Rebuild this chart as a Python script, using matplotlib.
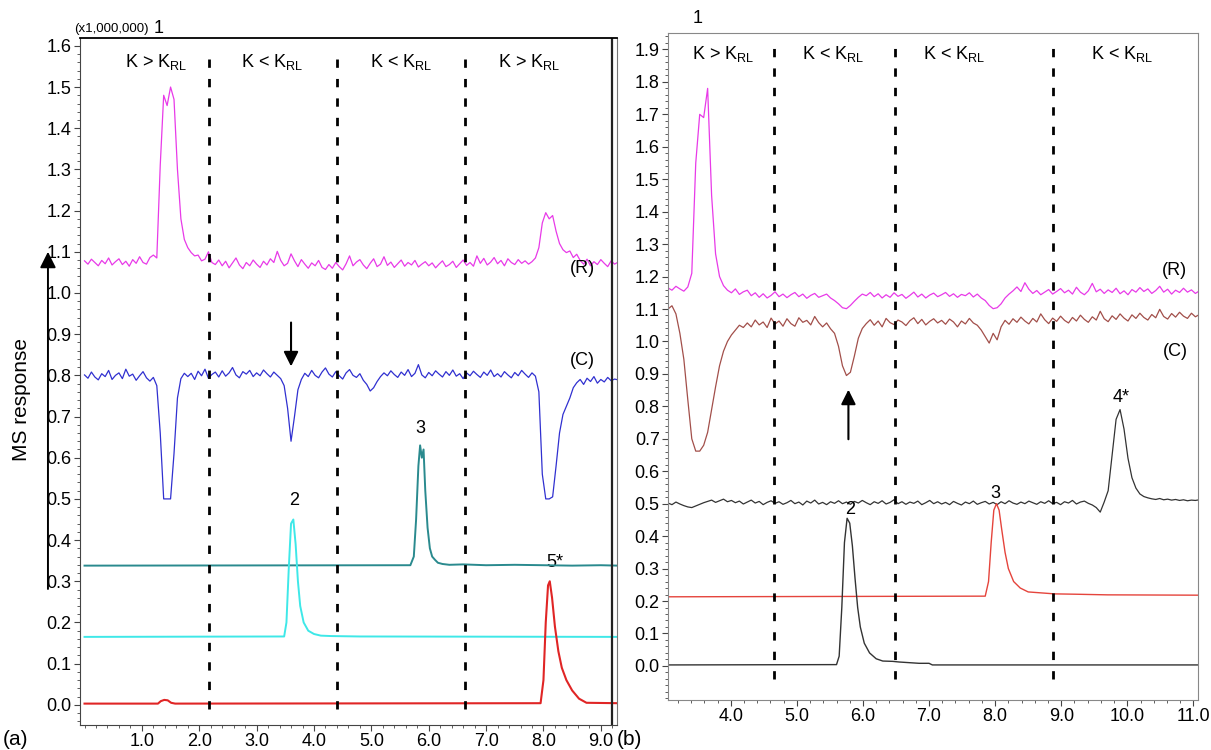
import numpy as np
import matplotlib
matplotlib.use("Agg")
import matplotlib.pyplot as plt
from matplotlib.ticker import MultipleLocator, FormatStrFormatter

plt.rcParams['font.family'] = ['Liberation Sans', 'DejaVu Sans']
plt.rcParams['mathtext.default'] = 'regular'

# ---------------- panel (a) data ----------------
# noisy traces sampled every 0.06 min starting at 0.0
a_t0, a_dt = 0.0, 0.06
a_R = [
    1.078, 1.070, 1.082, 1.074, 1.066, 1.079, 1.071, 1.085, 1.068, 1.076,
    1.083, 1.069, 1.077, 1.065, 1.081, 1.072, 1.088, 1.074, 1.070, 1.086,
    1.092, 1.085, 1.310, 1.480, 1.455, 1.500, 1.470, 1.300, 1.180, 1.130,
    1.110, 1.098, 1.090, 1.092, 1.078, 1.082, 1.100, 1.074, 1.069, 1.080,
    1.066, 1.077, 1.061, 1.073, 1.085, 1.068, 1.059, 1.074, 1.066, 1.080,
    1.070, 1.062, 1.077, 1.068, 1.083, 1.074, 1.101, 1.079, 1.066, 1.072,
    1.095, 1.078, 1.064, 1.081, 1.070, 1.060, 1.073, 1.066, 1.079, 1.062,
    1.057, 1.069, 1.060, 1.074, 1.064, 1.056, 1.071, 1.090, 1.066, 1.075,
    1.081, 1.068, 1.059, 1.072, 1.083, 1.064, 1.070, 1.088, 1.067, 1.075,
    1.062, 1.071, 1.080, 1.065, 1.074, 1.068, 1.079, 1.063, 1.070, 1.076,
    1.066, 1.073, 1.061, 1.070, 1.078, 1.064, 1.069, 1.077, 1.062, 1.071,
    1.080, 1.067, 1.074, 1.065, 1.090, 1.072, 1.084, 1.068, 1.075, 1.086,
    1.071, 1.079, 1.066, 1.083, 1.074, 1.069, 1.081, 1.072, 1.078, 1.070,
    1.076, 1.085, 1.110, 1.170, 1.195, 1.180, 1.188, 1.150, 1.120, 1.105,
    1.098, 1.102, 1.086, 1.094, 1.079, 1.070, 1.082, 1.066, 1.076, 1.069,
    1.081, 1.072, 1.064, 1.078, 1.070, 1.075,
]
a_C = [
    0.801, 0.793, 0.808, 0.796, 0.789, 0.804, 0.797, 0.812, 0.790, 0.800,
    0.806, 0.792, 0.815, 0.798, 0.803, 0.788, 0.799, 0.809, 0.794, 0.786,
    0.795, 0.775, 0.660, 0.500, 0.500, 0.500, 0.610, 0.745, 0.792, 0.805,
    0.797, 0.805, 0.790, 0.810, 0.799, 0.815, 0.793, 0.802, 0.808, 0.796,
    0.811, 0.798, 0.806, 0.819, 0.801, 0.794, 0.809, 0.803, 0.812, 0.797,
    0.806, 0.799, 0.813, 0.804, 0.796, 0.808, 0.800, 0.792, 0.775, 0.720,
    0.640, 0.700, 0.765, 0.790, 0.805, 0.797, 0.812, 0.800, 0.794, 0.808,
    0.818, 0.803, 0.796, 0.809, 0.799, 0.791, 0.806, 0.814, 0.800, 0.795,
    0.804, 0.788, 0.778, 0.762, 0.770, 0.785, 0.797, 0.806, 0.799, 0.811,
    0.802, 0.795, 0.808, 0.800, 0.814, 0.797, 0.805, 0.826, 0.801, 0.794,
    0.807, 0.799, 0.811, 0.803, 0.796, 0.809, 0.800, 0.813, 0.798, 0.804,
    0.792, 0.806, 0.799, 0.810, 0.802, 0.795, 0.808, 0.800, 0.813, 0.797,
    0.804, 0.796, 0.809, 0.801, 0.794, 0.807, 0.799, 0.812, 0.803, 0.795,
    0.806, 0.798, 0.760, 0.560, 0.500, 0.500, 0.505, 0.580, 0.660, 0.705,
    0.725, 0.745, 0.770, 0.782, 0.790, 0.778, 0.793, 0.785, 0.797, 0.781,
    0.790, 0.784, 0.795, 0.787, 0.791, 0.789,
]
# smooth traces as (time, value) lists
a_p3_t = [0.0, 5.68, 5.74, 5.78, 5.82, 5.85, 5.88, 5.91, 5.94, 5.98, 6.02, 6.06,
          6.11, 6.16, 6.24, 6.36, 6.60, 7.00, 7.50, 8.00, 8.50, 9.00, 9.30]
a_p3_v = [0.338, 0.339, 0.36, 0.45, 0.58, 0.63, 0.60, 0.62, 0.52, 0.43, 0.38, 0.36,
          0.352, 0.345, 0.342, 0.340, 0.341, 0.339, 0.340, 0.339, 0.338, 0.339, 0.338]
a_p2_t = [0.0, 3.48, 3.52, 3.56, 3.60, 3.64, 3.68, 3.72, 3.76, 3.82, 3.90, 4.00,
          4.12, 4.30, 4.80, 9.30]
a_p2_v = [0.165, 0.166, 0.20, 0.33, 0.44, 0.45, 0.39, 0.30, 0.24, 0.20, 0.18, 0.172,
          0.168, 0.167, 0.166, 0.165]
a_p5_t = [0.0, 1.28, 1.33, 1.39, 1.45, 1.51, 1.58, 7.95, 8.00, 8.04, 8.08, 8.11,
          8.15, 8.20, 8.26, 8.32, 8.40, 8.50, 8.62, 8.75, 9.30]
a_p5_v = [0.003, 0.003, 0.009, 0.012, 0.011, 0.005, 0.003, 0.004, 0.06, 0.20, 0.29, 0.30,
          0.26, 0.19, 0.13, 0.09, 0.06, 0.035, 0.015, 0.005, 0.004]
a_dash_x = [2.17, 4.40, 6.63]
a_regions = ["K > K$_{RL}$", "K < K$_{RL}$", "K < K$_{RL}$", "K > K$_{RL}$"]
a_region_x = [1.25, 3.28, 5.52, 7.75]

# ---------------- panel (b) data ----------------
b_t0, b_dt = 3.05, 0.06
b_R = [
    1.165, 1.158, 1.170, 1.162, 1.155, 1.168, 1.210, 1.550, 1.700, 1.690,
    1.780, 1.450, 1.270, 1.200, 1.172, 1.158, 1.150, 1.162, 1.145, 1.153,
    1.158, 1.141, 1.150, 1.136, 1.147, 1.134, 1.142, 1.153, 1.138, 1.146,
    1.135, 1.144, 1.151, 1.138, 1.146, 1.133, 1.142, 1.148, 1.136, 1.141,
    1.146, 1.134, 1.126, 1.116, 1.104, 1.101, 1.111, 1.124, 1.136, 1.146,
    1.141, 1.151, 1.138, 1.147, 1.134, 1.144, 1.136, 1.150, 1.139, 1.145,
    1.133, 1.142, 1.152, 1.137, 1.146, 1.134, 1.143, 1.149, 1.138, 1.144,
    1.151, 1.139, 1.147, 1.136, 1.145, 1.141, 1.150, 1.137, 1.146, 1.134,
    1.126, 1.111, 1.101, 1.104, 1.116, 1.134, 1.146, 1.156, 1.168, 1.154,
    1.181, 1.161, 1.148, 1.157, 1.144, 1.152, 1.160, 1.146, 1.154, 1.163,
    1.150, 1.158, 1.146, 1.167, 1.152, 1.144, 1.156, 1.179, 1.153, 1.161,
    1.148, 1.159, 1.151, 1.164, 1.147, 1.156, 1.144, 1.160, 1.152, 1.166,
    1.154, 1.162, 1.148, 1.157, 1.170, 1.152, 1.161, 1.146, 1.158, 1.151,
    1.164, 1.152, 1.159, 1.148, 1.156,
]
b_C = [
    1.100, 1.110, 1.085, 1.025, 0.945, 0.820, 0.700, 0.662, 0.662, 0.680,
    0.720, 0.790, 0.860, 0.925, 0.970, 1.000, 1.020, 1.035, 1.050, 1.043,
    1.057, 1.045, 1.066, 1.051, 1.060, 1.043, 1.072, 1.054, 1.063, 1.047,
    1.070, 1.055, 1.047, 1.073, 1.059, 1.065, 1.051, 1.077, 1.058, 1.045,
    1.057, 1.039, 1.025, 0.985, 0.925, 0.895, 0.905, 0.955, 1.010, 1.040,
    1.055, 1.067, 1.050, 1.063, 1.045, 1.071, 1.058, 1.052, 1.066, 1.060,
    1.049, 1.064, 1.073, 1.055, 1.068, 1.051, 1.062, 1.070, 1.057, 1.065,
    1.053, 1.069, 1.060, 1.045, 1.063, 1.054, 1.071, 1.057, 1.050, 1.035,
    1.015, 0.995, 1.025, 1.005, 1.045, 1.065, 1.053, 1.070, 1.059, 1.075,
    1.063, 1.054, 1.071, 1.060, 1.085, 1.067, 1.055, 1.072, 1.062, 1.078,
    1.065, 1.057, 1.074, 1.063, 1.081, 1.068, 1.059, 1.076, 1.066, 1.093,
    1.070, 1.061, 1.079, 1.068, 1.085, 1.072, 1.063, 1.082, 1.071, 1.087,
    1.074, 1.066, 1.083, 1.073, 1.099, 1.077, 1.069, 1.086, 1.075, 1.090,
    1.078, 1.071, 1.087, 1.076, 1.083,
]
b_P4 = [
    0.502, 0.497, 0.505, 0.499, 0.494, 0.490, 0.488, 0.493, 0.498, 0.503,
    0.507, 0.511, 0.504, 0.509, 0.514, 0.506, 0.510, 0.503, 0.508, 0.499,
    0.505, 0.511, 0.502, 0.507, 0.497, 0.504, 0.509, 0.501, 0.506, 0.498,
    0.503, 0.510, 0.500, 0.505, 0.496, 0.508, 0.502, 0.511, 0.499, 0.504,
    0.497, 0.506, 0.501, 0.509, 0.500, 0.505, 0.498, 0.507, 0.502, 0.510,
    0.503, 0.497, 0.506, 0.501, 0.509, 0.499, 0.504, 0.512, 0.500, 0.506,
    0.498, 0.505, 0.501, 0.508, 0.497, 0.503, 0.510, 0.500, 0.506, 0.499,
    0.504, 0.497, 0.507, 0.501, 0.496, 0.505, 0.500, 0.508, 0.498, 0.503,
    0.507, 0.499, 0.504, 0.497, 0.506, 0.500, 0.509, 0.502, 0.498, 0.505,
    0.500, 0.508, 0.503, 0.498, 0.506, 0.501, 0.509, 0.500, 0.504, 0.497,
    0.506, 0.502, 0.510, 0.499, 0.505, 0.508, 0.501, 0.496, 0.488, 0.474,
    0.505, 0.540, 0.650, 0.760, 0.790, 0.730, 0.640, 0.580, 0.548, 0.530,
    0.522, 0.518, 0.515, 0.513, 0.516, 0.512, 0.514, 0.511, 0.513, 0.510,
    0.512, 0.509, 0.511, 0.510, 0.512,
]
b_p2_t = [3.05, 5.60, 5.64, 5.68, 5.72, 5.76, 5.80, 5.84, 5.88, 5.92, 5.96, 6.02,
          6.10, 6.20, 6.30, 6.45, 6.55, 6.70, 6.85, 7.00, 7.05, 11.07]
b_p2_v = [0.003, 0.004, 0.03, 0.18, 0.38, 0.455, 0.44, 0.37, 0.27, 0.18, 0.12, 0.07,
          0.04, 0.022, 0.015, 0.014, 0.012, 0.010, 0.008, 0.008, 0.003, 0.003]
b_p3_t = [3.05, 7.85, 7.90, 7.94, 7.98, 8.02, 8.06, 8.10, 8.15, 8.20, 8.28, 8.38,
          8.50, 8.70, 8.90, 9.20, 9.70, 11.07]
b_p3_v = [0.213, 0.215, 0.26, 0.38, 0.48, 0.50, 0.48, 0.42, 0.35, 0.30, 0.26, 0.24,
          0.228, 0.225, 0.222, 0.221, 0.219, 0.218]
b_dash_x = [4.66, 6.48, 8.88]
b_regions = ["K > K$_{RL}$", "K < K$_{RL}$", "K < K$_{RL}$", "K < K$_{RL}$"]
b_region_x = [3.88, 5.55, 7.38, 9.92]


def grid(t0, dt, vals):
    return t0 + dt * np.arange(len(vals))


fig = plt.figure(figsize=(12.11, 7.5), dpi=100)
ax_a = fig.add_axes([0.066, 0.0333, 0.4434, 0.916])
ax_b = fig.add_axes([0.5516, 0.0667, 0.4377, 0.889])

dash = dict(color="black", lw=2.0, linestyle=(0, (3, 4)))
fs = 13

# ---- panel a ----
ax_a.plot(grid(a_t0, a_dt, a_R), a_R, color="#e83ae8", lw=0.9)
ax_a.plot(grid(a_t0, a_dt, a_C), a_C, color="#3030d0", lw=0.9)
ax_a.plot(a_p3_t, a_p3_v, color="#2a8a8e", lw=1.4)
ax_a.plot(a_p2_t, a_p2_v, color="#3ee8e8", lw=1.4)
ax_a.plot(a_p5_t, a_p5_v, color="#e02525", lw=1.5)
for x in a_dash_x:
    ax_a.plot([x, x], [-0.01, 1.59], **dash)
ax_a.axvline(9.2, color="#222222", lw=1.6)
for lab, x in zip(a_regions, a_region_x):
    ax_a.text(x, 1.56, lab, ha="center", va="center", fontsize=fs)
ax_a.text(3.65, 0.475, "2", ha="center", va="bottom", fontsize=fs)
ax_a.text(5.85, 0.65, "3", ha="center", va="bottom", fontsize=fs)
ax_a.text(8.20, 0.345, "5*", ha="center", va="center", fontsize=fs, zorder=0)
ax_a.text(8.68, 1.06, "(R)", ha="center", va="center", fontsize=fs)
ax_a.text(8.68, 0.835, "(C)", ha="center", va="center", fontsize=fs)
ax_a.text(1.30, 1.622, "1", ha="center", va="bottom", fontsize=fs, clip_on=False)
ax_a.text(1.12, 1.627, "(x1,000,000)", ha="right", va="bottom", fontsize=9.5, clip_on=False)
ax_a.annotate("", xy=(3.60, 0.815), xytext=(3.60, 0.935),
              arrowprops=dict(arrowstyle="-|>", color="black", lw=1.5, mutation_scale=22))
ax_a.set_xlim(-0.08, 9.28)
ax_a.set_ylim(-0.049, 1.619)
ax_a.set_xticks(np.arange(1, 10, 1.0))
ax_a.set_yticks(np.arange(0, 1.65, 0.1))
ax_a.xaxis.set_minor_locator(MultipleLocator(0.2))
ax_a.yaxis.set_minor_locator(MultipleLocator(0.02))
for sp in ["left", "bottom"]:
    ax_a.spines[sp].set_color("#444444")
ax_a.spines["top"].set_color("black")
ax_a.spines["top"].set_linewidth(1.3)
ax_a.spines["right"].set_color("#777777")

# ---- panel b ----
ax_b.plot(grid(b_t0, b_dt, b_R), b_R, color="#e83ae8", lw=0.9)
ax_b.plot(grid(b_t0, b_dt, b_C), b_C, color="#a24f4a", lw=0.9)
ax_b.plot(grid(b_t0, b_dt, b_P4), b_P4, color="#333333", lw=0.9)
ax_b.plot(b_p3_t, b_p3_v, color="#e5443c", lw=1.0)
ax_b.plot(b_p2_t, b_p2_v, color="#333333", lw=1.0)
for x in b_dash_x:
    ax_b.plot([x, x], [-0.04, 1.92], **dash)
for lab, x in zip(b_regions, b_region_x):
    ax_b.text(x, 1.885, lab, ha="center", va="center", fontsize=fs)
ax_b.text(5.80, 0.455, "2", ha="center", va="bottom", fontsize=fs)
ax_b.text(8.00, 0.505, "3", ha="center", va="bottom", fontsize=fs)
ax_b.text(9.90, 0.80, "4*", ha="center", va="bottom", fontsize=fs)
ax_b.text(10.72, 1.22, "(R)", ha="center", va="center", fontsize=fs)
ax_b.text(10.72, 0.97, "(C)", ha="center", va="center", fontsize=fs)
ax_b.text(3.50, 1.97, "1", ha="center", va="bottom", fontsize=fs, clip_on=False)
ax_b.annotate("", xy=(5.78, 0.86), xytext=(5.78, 0.69),
              arrowprops=dict(arrowstyle="-|>", color="black", lw=1.5, mutation_scale=22))
ax_b.set_xlim(3.05, 11.07)
ax_b.set_ylim(-0.105, 1.95)
ax_b.set_xticks(np.arange(4, 12, 1.0))
ax_b.set_yticks(np.arange(0, 1.95, 0.1))
ax_b.xaxis.set_minor_locator(MultipleLocator(0.2))
ax_b.yaxis.set_minor_locator(MultipleLocator(0.02))
for sp in ax_b.spines.values():
    sp.set_color("#888888")

for ax in (ax_a, ax_b):
    ax.xaxis.set_major_formatter(FormatStrFormatter("%.1f"))
    ax.yaxis.set_major_formatter(FormatStrFormatter("%.1f"))
    ax.tick_params(which="major", length=4, width=0.8, labelsize=fs, color="#444444", pad=2)
    ax.tick_params(which="minor", length=2, width=0.6, color="#444444")

# outer y label with arrow
fig.text(0.018, 0.467, "MS response", rotation=90, ha="center", va="center", fontsize=15)
fig.patches.append(matplotlib.patches.FancyArrowPatch(
    (0.0396, 0.211), (0.0396, 0.668), transform=fig.transFigure,
    arrowstyle="-|>", mutation_scale=24, color="black", lw=1.4))
fig.text(0.002, 0.014, "(a)", fontsize=15, ha="left", va="center")
fig.text(0.509, 0.014, "(b)", fontsize=15, ha="left", va="center")

fig.savefig("out.png", dpi=100)
